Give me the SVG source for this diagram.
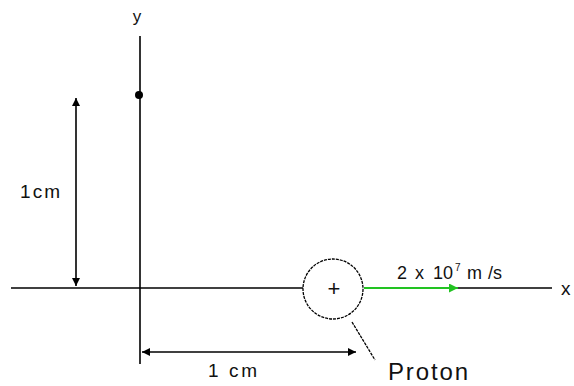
<svg xmlns="http://www.w3.org/2000/svg" width="574" height="386" viewBox="0 0 574 386">
<style>
.ln{stroke:#000;stroke-width:1.6;fill:none}
.t{font-family:"Liberation Sans",Arial,sans-serif;fill:#111}
</style>
<defs>
<marker id="ah" viewBox="0 0 10 10" refX="10" refY="5" markerWidth="8" markerHeight="8" markerUnits="userSpaceOnUse" orient="auto">
<path d="M0,0 L10,5 L0,10 z" fill="#000"/>
</marker>
<marker id="ahg" viewBox="0 0 10 10" refX="10" refY="5" markerWidth="9" markerHeight="9" markerUnits="userSpaceOnUse" orient="auto">
<path d="M0,0 L10,5 L0,10 z" fill="#22c322"/>
</marker>
</defs>
<rect width="574" height="386" fill="#fff"/>
<g id="connectors">
<line class="ln" x1="140" y1="36" x2="140" y2="364"/>
<line class="ln" x1="11" y1="288" x2="303" y2="288"/>
<line class="ln" x1="458" y1="288" x2="552" y2="288"/>
<line x1="364" y1="288" x2="458" y2="288" stroke="#22c322" stroke-width="1.8" marker-end="url(#ahg)"/>
<line class="ln" x1="76" y1="190" x2="76" y2="98" marker-end="url(#ah)"/>
<line class="ln" x1="76" y1="190" x2="76" y2="286" marker-end="url(#ah)"/>
<line class="ln" x1="250" y1="352" x2="142" y2="352" marker-end="url(#ah)"/>
<line class="ln" x1="250" y1="352" x2="356" y2="352" marker-end="url(#ah)"/>
<line x1="352" y1="322" x2="375" y2="360" stroke="#000" stroke-width="1.3" stroke-dasharray="3,1"/>
</g>
<g id="y-axis-label"><text class="t" x="137" y="22" font-size="17" text-anchor="middle">y</text></g>
<g id="x-axis-label"><text class="t" x="561" y="295" font-size="19">x</text></g>
<g id="point"><circle cx="139" cy="95" r="4" fill="#000"/></g>
<g id="proton">
<circle cx="333" cy="289" r="30" fill="none" stroke="#000" stroke-width="1.3" stroke-dasharray="3,1"/>
<text class="t" x="334" y="296" font-size="22" text-anchor="middle">+</text>
</g>
<g id="dim-v-label"><text class="t" x="20" y="198" font-size="19" textLength="40" lengthAdjust="spacing">1cm</text></g>
<g id="dim-h-label"><text class="t" x="208" y="377" font-size="19" textLength="49" lengthAdjust="spacing">1 cm</text></g>
<g id="velocity-label"><text class="t" y="279" font-size="18"><tspan x="397">2</tspan><tspan x="415">x</tspan><tspan x="433">10</tspan><tspan x="455" y="271" font-size="10">7</tspan><tspan x="467" y="279">m</tspan><tspan x="488">/s</tspan></text></g>
<g id="proton-label"><text class="t" x="388" y="380" font-size="24" textLength="80" lengthAdjust="spacing">Proton</text></g>
</svg>
